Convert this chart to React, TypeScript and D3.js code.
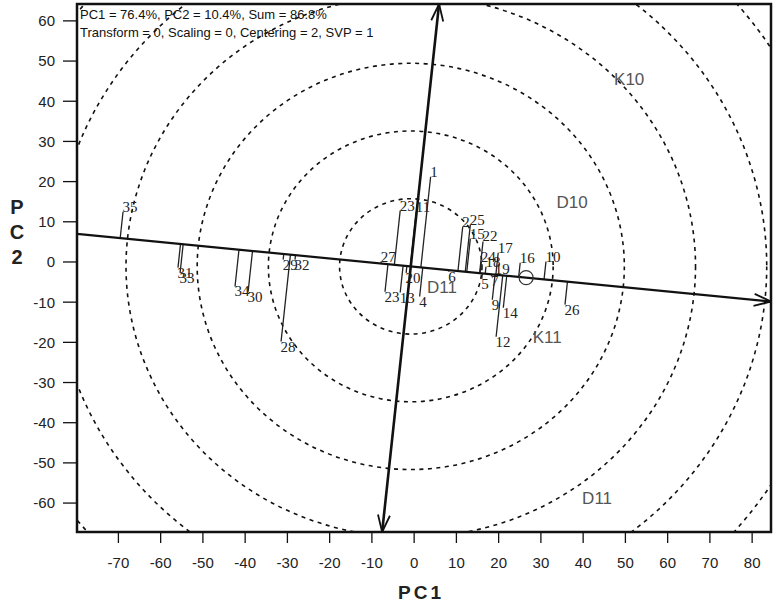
import React from 'react';
import * as d3 from 'd3';

// genotype points (PC1, PC2)
const genotypes = ["1", "35", "31", "33", "34", "30", "29", "32", "28", "27", "23", "13", "23", "11", "20", "4", "6", "2", "25", "15", "22", "17", "24", "18", "5", "7", "19", "9", "14", "12", "16", "10", "26"];
const genoPC1 = [3.9, -68.9, -55.9, -55.4, -42.4, -39.3, -31.0, -28.2, -31.5, -7.8, -6.9, -3.3, -3.3, 0.5, -1.9, 1.3, 8.2, 11.5, 13.3, 13.3, 16.3, 19.9, 15.9, 17.0, 16.0, 18.3, 19.2, 18.5, 21.1, 19.4, 25.1, 31.2, 35.7];
const genoPC2 = [21.2, 12.5, -1.4, -2.7, -6.1, -7.4, 0.6, 0.6, -19.8, 0.1, -7.4, -7.6, 12.8, 12.5, -2.7, -8.6, -2.4, 8.8, 9.3, 5.8, 5.1, 2.3, 0.1, -1.2, -4.2, -3.6, -2.9, -9.4, -11.4, -18.6, -0.2, 0.1, -10.6];

// environment labels
const environments = ["K10", "D10", "K11", "D11", "D11"];
const envPC1 = [50.9, 37.4, 31.5, 43.3, 6.6];
const envPC2 = [45.6, 14.9, -18.7, -58.8, -6.1];

// average environment marker and biplot origin
const avgEnv = [26.5, -3.9];
const origin = [-0.8, -1.1];
const ringStep = 16.85;
const rings = [1, 2, 3, 4, 5, 6, 7];

const xTicks = [-70, -60, -50, -40, -30, -20, -10, 0, 10, 20, 30, 40, 50, 60, 70, 80];
const yTicks = [60, 50, 40, 30, 20, 10, 0, -10, -20, -30, -40, -50, -60];

const W = 775, H = 604;
const left = 77, right = 771, top = 4, bottom = 532;

export default function App() {
  const x = d3.scaleLinear().domain([-79.8, 84.7]).range([left, right + 1]);
  const y = d3.scaleLinear().domain([64.2, -67.2]).range([top, bottom]);

  // ATC abscissa direction (towards average environment)
  const dx = avgEnv[0] - origin[0], dy = avgEnv[1] - origin[1];
  const len = Math.hypot(dx, dy);
  const ux = dx / len, uy = dy / len;
  const [ox, oy] = origin;

  // abscissa end points at frame edges
  const xMin = x.invert(left), xMax = x.invert(right);
  const a0 = [xMin, oy + (xMin - ox) * uy / ux];
  const a1 = [xMax, oy + (xMax - ox) * uy / ux];
  // ordinate end points at frame edges (perpendicular: (-uy, ux))
  const yTop = y.invert(top), yBot = y.invert(bottom);
  const o0 = [ox + (yBot - oy) * (-uy) / ux, yBot];
  const o1 = [ox + (yTop - oy) * (-uy) / ux, yTop];

  const arrow = (from: number[], to: number[]) => {
    const px0 = x(from[0]), py0 = y(from[1]), px1 = x(to[0]), py1 = y(to[1]);
    const l = Math.hypot(px1 - px0, py1 - py0);
    const ex = (px1 - px0) / l, ey = (py1 - py0) / l;
    const bl = 17, hw = 6;
    const b1 = [px1 - ex * bl - ey * hw, py1 - ey * bl + ex * hw];
    const b2 = [px1 - ex * bl + ey * hw, py1 - ey * bl - ex * hw];
    return `M${b1[0]},${b1[1]}L${px1},${py1}L${b2[0]},${b2[1]}`;
  };

  const foot = (px: number, py: number) => {
    const t = (px - ox) * ux + (py - oy) * uy;
    return [ox + t * ux, oy + t * uy];
  };
  const above = (px: number, py: number) => (-(px - ox) * uy + (py - oy) * ux) > 0;

  return (
    <svg width={W} height={H} style={{ position: 'absolute', left: 0, top: 0, background: '#fff' }}
      fontFamily="Arial, 'Liberation Sans', sans-serif">
      <defs>
        <clipPath id="plot"><rect x={left} y={top} width={right - left} height={bottom - top} /></clipPath>
      </defs>
      <rect x={0} y={0} width={W} height={H} fill="#fff" />

      <g clipPath="url(#plot)">
        {rings.map(k => (
          <ellipse key={k} cx={x(ox)} cy={y(oy)}
            rx={x(ox + k * ringStep) - x(ox)} ry={y(oy) - y(oy + k * ringStep)}
            fill="none" stroke="#111" strokeWidth={1.6} strokeDasharray="4,4.5" />
        ))}

        {genotypes.map((g, i) => {
          const f = foot(genoPC1[i], genoPC2[i]);
          return (
            <line key={'l' + i} x1={x(genoPC1[i])} y1={y(genoPC2[i])} x2={x(f[0])} y2={y(f[1])}
              stroke="#222" strokeWidth={1.3} />
          );
        })}

        <line x1={x(a0[0])} y1={y(a0[1])} x2={x(a1[0])} y2={y(a1[1])} stroke="#111" strokeWidth={2.2} />
        <path d={arrow(a0, a1)} fill="none" stroke="#111" strokeWidth={1.8} />
        <line x1={x(o0[0])} y1={y(o0[1])} x2={x(o1[0])} y2={y(o1[1])} stroke="#111" strokeWidth={2.6} />
        <path d={arrow(o0, o1)} fill="none" stroke="#111" strokeWidth={1.8} />
        <path d={arrow(o1, o0)} fill="none" stroke="#111" strokeWidth={1.8} />

        <circle cx={x(avgEnv[0])} cy={y(avgEnv[1])} r={7} fill="none" stroke="#333" strokeWidth={1.2} />

        {genotypes.map((g, i) => {
          const up = above(genoPC1[i], genoPC2[i]);
          return (
            <text key={'t' + i} x={x(genoPC1[i]) - 0.5} y={y(genoPC2[i]) + (up ? 0 : 10)}
              fontFamily="'Liberation Serif', 'Times New Roman', serif" fontSize={15} fill="#222">{g}</text>
          );
        })}

        {environments.map((e, i) => (
          <text key={'e' + i} x={x(envPC1[i])} y={y(envPC2[i])} textAnchor="middle" dy="0.36em"
            fontSize={17} fill="#555">{e}</text>
        ))}

        <text x={80} y={19} fontSize={13} fill="#111">PC1 = 76.4%, PC2 = 10.4%, Sum = 86.8%</text>
        <text x={80} y={37} fontSize={13} fill="#111">Transform = 0, Scaling = 0, Centering = 2, SVP = 1</text>
      </g>

      <rect x={left} y={top} width={right - left} height={bottom - top} fill="none" stroke="#111" strokeWidth={2.5} />

      {xTicks.map(t => (
        <g key={'x' + t}>
          <line x1={x(t)} x2={x(t)} y1={bottom} y2={bottom + 11} stroke="#111" strokeWidth={1.3} />
          <text x={x(t)} y={568} textAnchor="middle" fontSize={15} fill="#222">{t}</text>
        </g>
      ))}
      {yTicks.map(t => (
        <g key={'y' + t}>
          <line x1={left - 14} x2={left} y1={y(t)} y2={y(t)} stroke="#111" strokeWidth={1.3} />
          <text x={55} y={y(t)} dy="0.36em" textAnchor="end" fontSize={15} fill="#222">{t}</text>
        </g>
      ))}

      <text x={421} y={599} textAnchor="middle" fontSize={19} fontWeight="bold" letterSpacing={3} fill="#222">PC1</text>
      {["P", "C", "2"].map((c, i) => (
        <text key={c} x={17} y={214 + i * 25} textAnchor="middle" fontSize={20} fontWeight="bold" fill="#222">{c}</text>
      ))}
    </svg>
  );
}
